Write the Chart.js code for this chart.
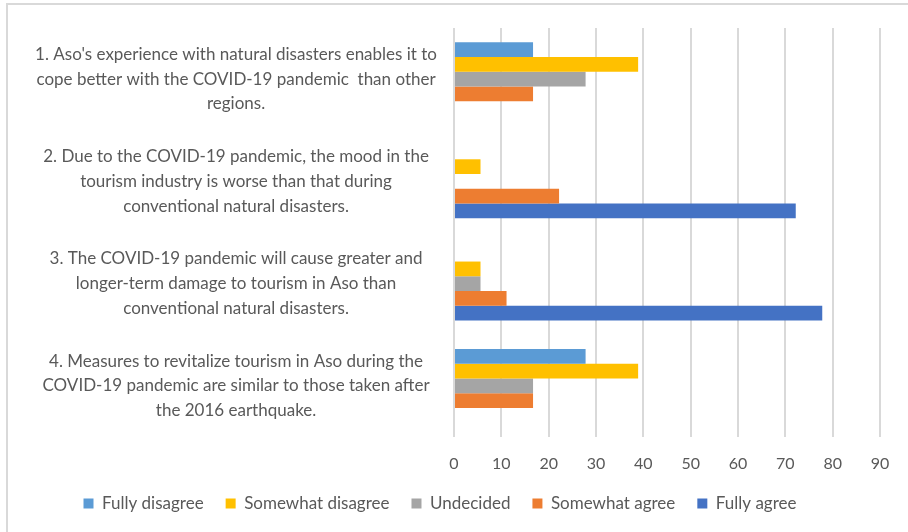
<!DOCTYPE html>
<html>
<head>
<meta charset="utf-8">
<script src="https://cdn.jsdelivr.net/npm/chart.js@4.4.1/dist/chart.umd.min.js"></script>
<style>
    html, body { margin: 0; padding: 0; background: #ffffff; }
    #wrap { position: relative; width: 908px; height: 532px; }
    #frame {
        position: absolute; left: 6px; top: 3px; right: -4px; bottom: -4px;
        border-top: 2px solid #d9d9d9; border-left: 2px solid #d9d9d9;
        pointer-events: none;
    }
</style>
</head>
<body>
<div id="wrap">
    <canvas id="canvas1" width="908" height="532"></canvas>
    <div id="frame"></div>
</div>
<script>
// Survey statements (one array of lines per category)
const statements = [
    ["1. Aso's experience with natural disasters enables it to", "cope better with the COVID-19 pandemic  than other", "regions."],
    ["2. Due to the COVID-19 pandemic, the mood in the", "tourism industry is worse than that during", "conventional natural disasters."],
    ["3. The COVID-19 pandemic will cause greater and", "longer-term damage to tourism in Aso than", "conventional natural disasters."],
    ["4. Measures to revitalize tourism in Aso during the", "COVID-19 pandemic are similar to those taken after", "the 2016 earthquake."]
]

// Answer shares (%) per statement
const fullyDisagree = [16.7, 0, 0, 27.8]
const somewhatDisagree = [38.9, 5.6, 5.6, 38.9]
const undecided = [27.8, 0, 5.6, 16.7]
const somewhatAgree = [16.7, 22.2, 11.1, 16.7]
const fullyAgree = [0, 72.2, 77.8, 0]

const xTicks = [0, 10, 20, 30, 40, 50, 60, 70, 80, 90]

const textColor = '#595959'
const fontFamily = "Lato, 'Open Sans', sans-serif"

function makeSet(label, data, color) {
    return {
        label: label,
        data: data,
        backgroundColor: color,
        borderColor: color,
        borderWidth: 0,
        categoryPercentage: 0.72,
        barPercentage: 1.0
    }
}

const config = {
    type: 'bar',
    data: {
        labels: statements,
        datasets: [
            makeSet('Fully disagree', fullyDisagree, '#5b9bd5'),
            makeSet('Somewhat disagree', somewhatDisagree, '#ffc000'),
            makeSet('Undecided', undecided, '#a5a5a5'),
            makeSet('Somewhat agree', somewhatAgree, '#ed7d31'),
            makeSet('Fully agree', fullyAgree, '#4472c4')
        ]
    },
    options: {
        indexAxis: 'y',
        responsive: false,
        animation: false,
        layout: {
            padding: { top: 28, right: 28, bottom: 10, left: 0 }
        },
        plugins: {
            title: { display: false },
            tooltip: { enabled: false },
            legend: {
                display: true,
                position: 'bottom',
                labels: {
                    color: textColor,
                    boxWidth: 10,
                    boxHeight: 10,
                    padding: 22,
                    font: { size: 17, family: fontFamily }
                }
            }
        },
        scales: {
            x: {
                min: 0,
                max: 90,
                afterBuildTicks: function(scale) {
                    scale.ticks = xTicks.map(v => ({ value: v }))
                },
                afterFit: function(scale) {
                    // keep the axis short so the legend sits close below
                    scale.height = 36
                },
                ticks: {
                    color: textColor,
                    padding: 17,
                    font: { size: 16, family: fontFamily }
                },
                grid: {
                    color: '#d9d9d9',
                    lineWidth: 2,
                    drawTicks: false
                },
                border: { display: false }
            },
            y: {
                afterFit: function(scale) {
                    scale.width = 454
                    scale.paddingTop = 0
                    scale.paddingBottom = 0
                },
                ticks: {
                    color: textColor,
                    crossAlign: 'center',
                    padding: 17,
                    font: { size: 17, family: fontFamily, lineHeight: 1.45 }
                },
                grid: { display: false, drawTicks: false },
                border: { display: false }
            }
        }
    }
}

const canvas = document.getElementById('canvas1')
new Chart(canvas.getContext('2d'), config)
</script>
</body>
</html>
